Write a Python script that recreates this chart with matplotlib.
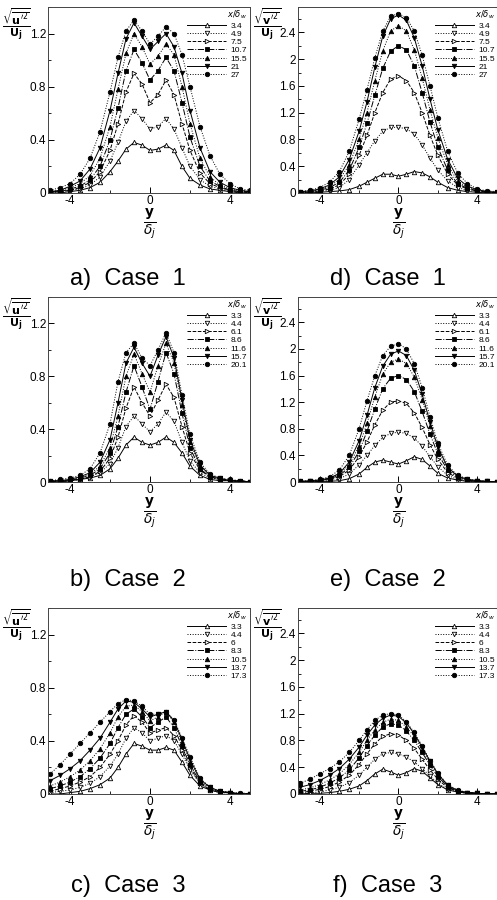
import matplotlib
matplotlib.use('Agg')
import matplotlib.pyplot as plt
from matplotlib.ticker import MultipleLocator, FuncFormatter

plt.rcParams['font.family'] = ['Liberation Sans', 'DejaVu Sans']
plt.rcParams['mathtext.fontset'] = 'dejavusans'

# y / delta_j stations
y_pos = [-5, -4.5, -4, -3.5, -3, -2.5, -2, -1.6, -1.2, -0.8, -0.4, 0,
         0.4, 0.8, 1.2, 1.6, 2, 2.5, 3, 3.5, 4, 4.5, 5]

# x / delta_w legend values
labels_1 = ['3.4', '4.9', '7.5', '10.7', '15.5', '21', '27']
labels_2 = ['3.3', '4.4', '6.1', '8.6', '11.6', '15.7', '20.1']
labels_3 = ['3.3', '4.4', '6', '8.3', '10.5', '13.7', '17.3']

# a) u' case 1
u_case1 = [
    [0.0, 0.0, 0.01, 0.02, 0.04, 0.08, 0.16, 0.24, 0.33, 0.38, 0.36, 0.32, 0.33, 0.36, 0.32, 0.2, 0.11, 0.06, 0.03, 0.02, 0.01, 0.0, 0.0],
    [0.0, 0.01, 0.02, 0.03, 0.06, 0.12, 0.24, 0.38, 0.54, 0.62, 0.56, 0.48, 0.5, 0.56, 0.48, 0.34, 0.2, 0.1, 0.05, 0.03, 0.01, 0.01, 0.0],
    [0.01, 0.01, 0.02, 0.04, 0.08, 0.16, 0.32, 0.52, 0.76, 0.9, 0.82, 0.68, 0.74, 0.85, 0.74, 0.52, 0.32, 0.15, 0.07, 0.04, 0.02, 0.01, 0.0],
    [0.01, 0.01, 0.03, 0.05, 0.1, 0.2, 0.4, 0.64, 0.92, 1.08, 0.98, 0.85, 0.92, 1.02, 0.92, 0.68, 0.42, 0.2, 0.09, 0.05, 0.02, 0.01, 0.01],
    [0.01, 0.02, 0.04, 0.07, 0.13, 0.26, 0.5, 0.78, 1.05, 1.2, 1.1, 0.97, 1.03, 1.12, 1.04, 0.8, 0.52, 0.26, 0.12, 0.06, 0.03, 0.02, 0.01],
    [0.01, 0.02, 0.05, 0.09, 0.18, 0.34, 0.62, 0.9, 1.16, 1.28, 1.18, 1.08, 1.14, 1.2, 1.1, 0.9, 0.62, 0.34, 0.16, 0.08, 0.04, 0.02, 0.01],
    [0.02, 0.04, 0.07, 0.14, 0.26, 0.46, 0.76, 1.02, 1.22, 1.3, 1.22, 1.12, 1.18, 1.25, 1.2, 1.04, 0.8, 0.5, 0.28, 0.14, 0.07, 0.03, 0.02],
]

# b) u' case 2
u_case2 = [
    [0, 0, 0.01, 0.02, 0.03, 0.05, 0.1, 0.18, 0.28, 0.34, 0.3, 0.28, 0.3, 0.34, 0.3, 0.22, 0.12, 0.05, 0.02, 0.01, 0.01, 0, 0],
    [0, 0, 0.01, 0.02, 0.04, 0.07, 0.14, 0.26, 0.42, 0.5, 0.44, 0.38, 0.44, 0.53, 0.46, 0.3, 0.16, 0.07, 0.03, 0.02, 0.01, 0, 0],
    [0, 0.01, 0.01, 0.02, 0.04, 0.08, 0.18, 0.34, 0.56, 0.72, 0.6, 0.5, 0.62, 0.74, 0.64, 0.42, 0.22, 0.09, 0.04, 0.02, 0.01, 0.01, 0],
    [0, 0.01, 0.01, 0.03, 0.05, 0.1, 0.22, 0.42, 0.68, 0.88, 0.72, 0.55, 0.76, 0.98, 0.82, 0.52, 0.26, 0.1, 0.04, 0.02, 0.01, 0.01, 0],
    [0.01, 0.01, 0.02, 0.03, 0.06, 0.12, 0.26, 0.5, 0.8, 0.97, 0.82, 0.68, 0.88, 1.05, 0.9, 0.58, 0.3, 0.12, 0.05, 0.02, 0.01, 0.01, 0],
    [0.01, 0.01, 0.02, 0.04, 0.07, 0.15, 0.32, 0.6, 0.9, 1.02, 0.9, 0.8, 0.96, 1.1, 0.94, 0.62, 0.32, 0.13, 0.05, 0.03, 0.01, 0.01, 0],
    [0.01, 0.02, 0.03, 0.05, 0.1, 0.22, 0.44, 0.76, 0.98, 1.05, 0.94, 0.88, 1.0, 1.13, 0.98, 0.66, 0.36, 0.15, 0.06, 0.03, 0.02, 0.01, 0],
]

# c) u' case 3
u_case3 = [
    [0, 0, 0.01, 0.02, 0.04, 0.07, 0.12, 0.2, 0.3, 0.38, 0.36, 0.33, 0.33, 0.35, 0.33, 0.24, 0.14, 0.06, 0.03, 0.01, 0.01, 0, 0],
    [0.01, 0.02, 0.03, 0.05, 0.08, 0.13, 0.21, 0.3, 0.42, 0.5, 0.46, 0.4, 0.42, 0.44, 0.4, 0.3, 0.18, 0.08, 0.03, 0.01, 0.01, 0, 0],
    [0.02, 0.04, 0.06, 0.09, 0.13, 0.2, 0.3, 0.4, 0.52, 0.59, 0.54, 0.46, 0.48, 0.5, 0.44, 0.33, 0.2, 0.08, 0.03, 0.02, 0.01, 0, 0],
    [0.04, 0.06, 0.09, 0.13, 0.19, 0.27, 0.38, 0.5, 0.6, 0.64, 0.58, 0.5, 0.54, 0.58, 0.5, 0.36, 0.22, 0.09, 0.04, 0.02, 0.01, 0, 0],
    [0.06, 0.09, 0.13, 0.18, 0.25, 0.34, 0.46, 0.58, 0.66, 0.67, 0.62, 0.55, 0.58, 0.62, 0.54, 0.39, 0.24, 0.1, 0.04, 0.02, 0.01, 0, 0],
    [0.1, 0.14, 0.19, 0.25, 0.33, 0.42, 0.54, 0.64, 0.7, 0.69, 0.64, 0.58, 0.6, 0.62, 0.55, 0.41, 0.26, 0.11, 0.05, 0.02, 0.01, 0, 0],
    [0.15, 0.22, 0.3, 0.38, 0.46, 0.54, 0.62, 0.68, 0.71, 0.7, 0.66, 0.6, 0.6, 0.62, 0.56, 0.42, 0.28, 0.12, 0.05, 0.02, 0.01, 0.01, 0],
]

# d) v' case 1
v_case1 = [
    [0, 0, 0.01, 0.02, 0.03, 0.05, 0.1, 0.16, 0.22, 0.28, 0.28, 0.25, 0.28, 0.32, 0.3, 0.24, 0.16, 0.08, 0.04, 0.02, 0.01, 0, 0],
    [0, 0.01, 0.02, 0.04, 0.08, 0.2, 0.42, 0.6, 0.78, 0.92, 0.98, 0.98, 0.96, 0.88, 0.72, 0.52, 0.34, 0.18, 0.08, 0.04, 0.02, 0.01, 0],
    [0.01, 0.01, 0.03, 0.06, 0.12, 0.28, 0.56, 0.86, 1.2, 1.5, 1.7, 1.75, 1.68, 1.5, 1.2, 0.86, 0.56, 0.28, 0.12, 0.06, 0.03, 0.01, 0],
    [0.01, 0.02, 0.04, 0.08, 0.16, 0.34, 0.68, 1.04, 1.46, 1.86, 2.12, 2.2, 2.14, 1.9, 1.5, 1.06, 0.68, 0.34, 0.14, 0.07, 0.03, 0.01, 0.01],
    [0.01, 0.02, 0.05, 0.1, 0.2, 0.42, 0.8, 1.2, 1.68, 2.12, 2.42, 2.5, 2.42, 2.14, 1.72, 1.24, 0.82, 0.42, 0.18, 0.08, 0.04, 0.02, 0.01],
    [0.02, 0.03, 0.06, 0.12, 0.24, 0.5, 0.92, 1.36, 1.88, 2.34, 2.6, 2.66, 2.58, 2.32, 1.9, 1.4, 0.94, 0.5, 0.22, 0.1, 0.05, 0.02, 0.01],
    [0.02, 0.04, 0.08, 0.16, 0.32, 0.62, 1.1, 1.54, 2.02, 2.42, 2.64, 2.68, 2.62, 2.42, 2.06, 1.6, 1.12, 0.62, 0.3, 0.14, 0.06, 0.03, 0.02],
]

# e) v' case 2
v_case2 = [
    [0, 0, 0.01, 0.01, 0.02, 0.05, 0.12, 0.22, 0.3, 0.33, 0.3, 0.27, 0.32, 0.38, 0.34, 0.24, 0.13, 0.06, 0.03, 0.01, 0.01, 0, 0],
    [0, 0.01, 0.01, 0.02, 0.05, 0.12, 0.26, 0.4, 0.55, 0.67, 0.73, 0.75, 0.73, 0.66, 0.54, 0.38, 0.23, 0.1, 0.04, 0.02, 0.01, 0.01, 0],
    [0, 0.01, 0.02, 0.04, 0.08, 0.18, 0.38, 0.6, 0.86, 1.08, 1.2, 1.22, 1.18, 1.04, 0.82, 0.56, 0.34, 0.14, 0.06, 0.03, 0.01, 0.01, 0],
    [0.01, 0.01, 0.02, 0.05, 0.1, 0.22, 0.46, 0.76, 1.1, 1.4, 1.56, 1.6, 1.54, 1.36, 1.06, 0.72, 0.42, 0.18, 0.07, 0.03, 0.02, 0.01, 0],
    [0.01, 0.01, 0.03, 0.06, 0.12, 0.26, 0.54, 0.88, 1.28, 1.62, 1.8, 1.85, 1.78, 1.58, 1.24, 0.84, 0.48, 0.2, 0.08, 0.04, 0.02, 0.01, 0],
    [0.01, 0.02, 0.03, 0.06, 0.13, 0.3, 0.62, 1.0, 1.42, 1.74, 1.92, 1.97, 1.9, 1.68, 1.32, 0.9, 0.52, 0.22, 0.09, 0.04, 0.02, 0.01, 0],
    [0.01, 0.02, 0.04, 0.08, 0.18, 0.4, 0.8, 1.22, 1.6, 1.9, 2.04, 2.08, 2.0, 1.78, 1.42, 0.98, 0.58, 0.25, 0.1, 0.05, 0.02, 0.01, 0],
]

# f) v' case 3
v_case3 = [
    [0, 0.01, 0.01, 0.02, 0.04, 0.07, 0.12, 0.2, 0.3, 0.37, 0.33, 0.28, 0.32, 0.38, 0.34, 0.24, 0.14, 0.06, 0.03, 0.01, 0.01, 0, 0],
    [0.01, 0.02, 0.03, 0.06, 0.1, 0.17, 0.28, 0.4, 0.52, 0.6, 0.62, 0.6, 0.55, 0.48, 0.38, 0.27, 0.16, 0.07, 0.03, 0.01, 0.01, 0, 0],
    [0.02, 0.04, 0.07, 0.11, 0.18, 0.28, 0.44, 0.6, 0.75, 0.86, 0.9, 0.88, 0.8, 0.68, 0.52, 0.36, 0.22, 0.09, 0.04, 0.02, 0.01, 0, 0],
    [0.04, 0.06, 0.1, 0.16, 0.24, 0.36, 0.54, 0.72, 0.88, 1.0, 1.05, 1.03, 0.94, 0.8, 0.62, 0.43, 0.26, 0.11, 0.04, 0.02, 0.01, 0, 0],
    [0.06, 0.09, 0.14, 0.21, 0.3, 0.44, 0.62, 0.8, 0.96, 1.07, 1.12, 1.1, 1.0, 0.86, 0.66, 0.46, 0.28, 0.12, 0.05, 0.02, 0.01, 0, 0],
    [0.1, 0.14, 0.2, 0.28, 0.38, 0.52, 0.7, 0.88, 1.03, 1.13, 1.18, 1.16, 1.06, 0.9, 0.7, 0.49, 0.3, 0.13, 0.05, 0.02, 0.01, 0, 0],
    [0.16, 0.22, 0.3, 0.38, 0.48, 0.62, 0.8, 0.96, 1.1, 1.18, 1.2, 1.18, 1.08, 0.92, 0.72, 0.5, 0.31, 0.14, 0.06, 0.02, 0.01, 0, 0],
]

# line style, marker, marker face colour for the 7 stations
styles = [('-', '^', 'white'), (':', 'v', 'white'), ('--', '>', 'white'),
          ('-.', 's', 'black'), (':', '^', 'black'), ('-', 'v', 'black'),
          (':', 'o', 'black')]

u_label = r'$\dfrac{\sqrt{\overline{\mathbf{u}^{\prime 2}}}}{\mathbf{U_j}}$'
v_label = r'$\dfrac{\sqrt{\overline{\mathbf{v}^{\prime 2}}}}{\mathbf{U_j}}$'

fig = plt.figure(figsize=(4.97, 9.0), dpi=100)

col_left = [0.0966, 0.5996]
col_width = [0.4064, 0.4004]
row_bottom = [0.7856, 0.4644, 0.1178]
row_height = [0.2067, 0.2056, 0.2067]
cap_y = [0.69, 0.356, 0.016]
cap_x = [0.2575, 0.78]

panels = [
    (0, 0, u_case1, labels_1, 'u', 'a)  Case  1'),
    (1, 0, u_case2, labels_2, 'u', 'b)  Case  2'),
    (2, 0, u_case3, labels_3, 'u', 'c)  Case  3'),
    (0, 1, v_case1, labels_1, 'v', 'd)  Case  1'),
    (1, 1, v_case2, labels_2, 'v', 'e)  Case  2'),
    (2, 1, v_case3, labels_3, 'v', 'f)  Case  3'),
]

for row, col, data, labels, comp, caption in panels:
    ax = fig.add_axes([col_left[col], row_bottom[row], col_width[col], row_height[row]])
    for (ls, mk, fc), vals, lab in zip(styles, data, labels):
        ax.plot(y_pos, vals, linestyle=ls, marker=mk, color='black',
                markerfacecolor=fc, markeredgecolor='black', markersize=3.2,
                markeredgewidth=0.6, linewidth=0.7, label=lab)

    ax.set_xlim(-5.1, 5)
    ax.xaxis.set_major_locator(MultipleLocator(4))
    ax.xaxis.set_minor_locator(MultipleLocator(2))
    if comp == 'u':
        ax.set_ylim(0, 1.4)
        ylab = u_label
    else:
        ax.set_ylim(0, 2.78)
        ylab = v_label
    ax.yaxis.set_major_locator(MultipleLocator(0.4))
    ax.yaxis.set_minor_locator(MultipleLocator(0.2))
    ax.yaxis.set_major_formatter(FuncFormatter(lambda v, p: '%g' % round(v, 2)))
    ax.xaxis.set_major_formatter(FuncFormatter(lambda v, p: '%g' % v))
    ax.tick_params(direction='in', which='major', length=4, width=0.7, labelsize=8.5, pad=1.5)
    ax.tick_params(direction='in', which='minor', length=2, width=0.6)
    for sp in ax.spines.values():
        sp.set_linewidth(0.7)
        sp.set_color('#444444')

    ax.text(-0.155, 0.905, ylab, transform=ax.transAxes, ha='center', va='center', fontsize=8)
    ax.text(0.505, -0.17, r'$\frac{\mathbf{y}}{\delta_j}$', transform=ax.transAxes,
            ha='center', va='center', fontsize=14)

    leg = ax.legend(loc='upper left', bbox_to_anchor=(0.69, 0.99), frameon=False,
                    fontsize=6, handlelength=4.6, handletextpad=0.6, labelspacing=0.05,
                    borderpad=0, borderaxespad=0, title=r'$x/\delta_w$',
                    title_fontsize=6, alignment='right')
    for t in leg.get_texts():
        t.set_clip_box(ax.bbox)
        t.set_clip_on(True)

    fig.text(cap_x[col], cap_y[row], caption, ha='center', va='center', fontsize=17)

fig.savefig('out.png', dpi=100)
